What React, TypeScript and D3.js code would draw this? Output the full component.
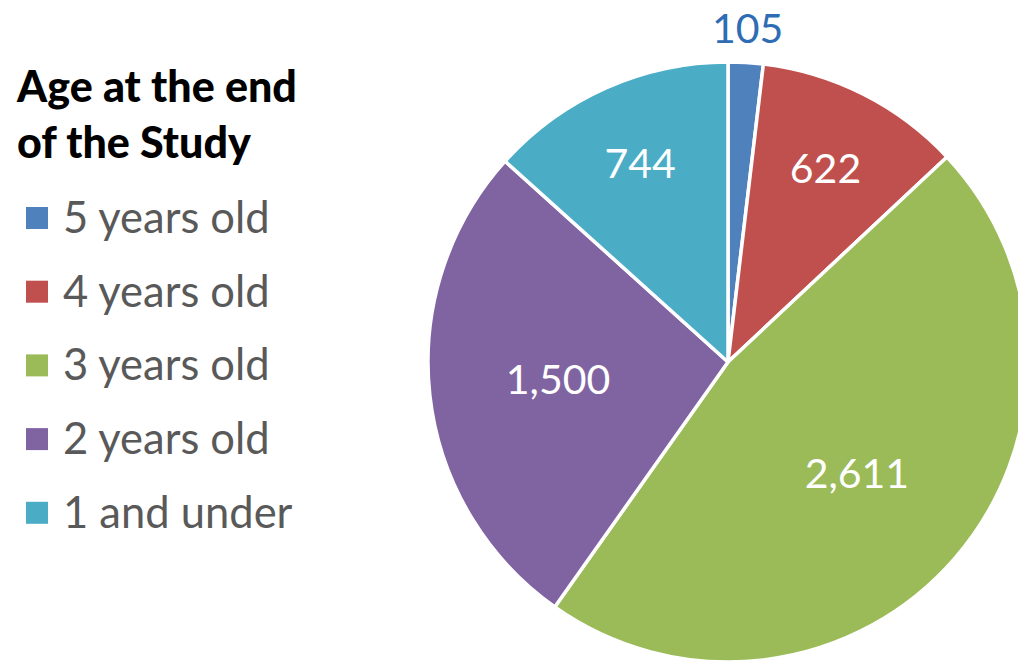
import React, { useEffect, useRef } from 'react';
import * as d3 from 'd3';

const categories = ['5 years old', '4 years old', '3 years old', '2 years old', '1 and under'];
const counts = [105, 622, 2611, 1500, 744];
const colors = ['#4F81BD', '#C0504D', '#9BBB59', '#8064A2', '#4BACC6'];
const titleLines = ['Age at the end', 'of the Study'];

const FONT = 'Lato, "Open Sans", sans-serif';

const PieChart: React.FC = () => {
  const svgRef = useRef<SVGSVGElement>(null);

  useEffect(() => {
    if (!svgRef.current) return;
    const svg = d3.select(svgRef.current);
    svg.selectAll('*').remove();

    const width = 1018;
    const height = 667;
    const cx = 728;
    const cy = 362;
    const radius = 300;

    svg.attr('width', width).attr('height', height);

    // title
    svg
      .append('g')
      .selectAll('text')
      .data(titleLines)
      .join('text')
      .attr('x', 17)
      .attr('y', (d, i) => 102 + i * 56)
      .attr('font-family', FONT)
      .attr('font-weight', 900)
      .attr('font-size', 43)
      .attr('fill', '#000')
      .text(d => d);

    // legend
    const legend = svg
      .append('g')
      .selectAll('g')
      .data(categories)
      .join('g')
      .attr('transform', (d, i) => `translate(26,${218 + i * 73.7})`);

    legend
      .append('rect')
      .attr('x', 0)
      .attr('y', -11)
      .attr('width', 22)
      .attr('height', 22)
      .attr('fill', (d, i) => colors[i]);

    legend
      .append('text')
      .attr('x', 37)
      .attr('y', 15)
      .attr('font-family', FONT)
      .attr('font-size', 43.5)
      .attr('fill', '#595959')
      .text(d => d);

    // pie
    const pie = d3
      .pie<number>()
      .sort(null)
      .value(d => d);
    const arcs = pie(counts);
    const arc = d3.arc<d3.PieArcDatum<number>>().innerRadius(0).outerRadius(radius);
    const total = d3.sum(counts);

    const g = svg.append('g').attr('transform', `translate(${cx},${cy})`);

    g.selectAll('path')
      .data(arcs)
      .join('path')
      .attr('d', arc)
      .attr('fill', (d, i) => colors[i])
      .attr('stroke', '#fff')
      .attr('stroke-width', 3.5)
      .attr('stroke-linejoin', 'round');

    const fmt = d3.format(',');
    const labelRadius = (d: d3.PieArcDatum<number>) => {
      const share = d.value / total;
      if (share < 0.05) return radius * 1.11;
      if (share < 0.2) return radius * 0.72;
      return radius * 0.57;
    };

    g.selectAll('text')
      .data(arcs)
      .join('text')
      .attr('transform', d => {
        const r = labelRadius(d);
        const a = (d.startAngle + d.endAngle) / 2;
        return `translate(${Math.sin(a) * r},${-Math.cos(a) * r})`;
      })
      .attr('text-anchor', 'middle')
      .attr('dy', '0.33em')
      .attr('font-family', FONT)
      .attr('font-size', 41)
      .attr('fill', d => (d.value / total < 0.05 ? '#2E6DB4' : '#fff'))
      .text(d => fmt(d.value));
  }, []);

  return <svg ref={svgRef} style={{ display: 'block' }}></svg>;
};

const App = () => {
  return (
    <div style={{ position: 'absolute', left: 0, top: 0, width: 1018, height: 667, background: '#fff' }}>
      <PieChart />
    </div>
  );
};

export default App;
